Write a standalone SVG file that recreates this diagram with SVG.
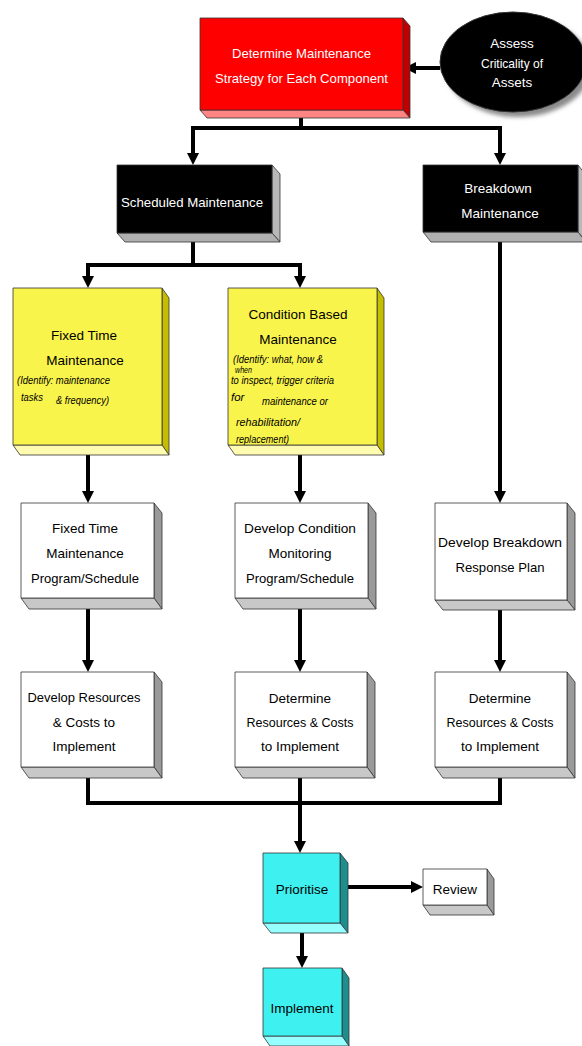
<svg xmlns="http://www.w3.org/2000/svg" width="582" height="1046" viewBox="0 0 582 1046">
  <style>
    text { font-family: "Liberation Sans", Arial, sans-serif; font-size: 13.5px; text-anchor: middle; fill: #000; }
    text.w { fill: #fff; }
    text.it { font-style: italic; font-size: 11.5px; text-anchor: start; }
    .edge { stroke: #333; stroke-width: 0.8; stroke-linejoin: round; }
    .red { fill: #ff0000; } .red-r { fill: #c00000; } .red-b { fill: #ff8484; }
    .blk { fill: #000; } .blk-r { fill: #b8b8b8; } .blk-b { fill: #b0b0b0; }
    .yel { fill: #f9f44c; } .yel-r { fill: #c4bd00; } .yel-b { fill: #fffbb0; }
    .wht { fill: #fff; } .wht-r { fill: #9a9a9a; } .wht-b { fill: #c8c8c8; }
    .cyn { fill: #3ef0f0; } .cyn-r { fill: #1e8f8f; } .cyn-b { fill: #96ffff; }
    .link { fill: none; stroke: #000; stroke-width: 4; }
    .arrow { fill: none; stroke: #000; stroke-width: 4; marker-end: url(#head); }
  </style>
  <defs>
    <marker id="head" markerUnits="userSpaceOnUse" markerWidth="13" markerHeight="12" refX="4" refY="6" orient="auto">
      <path d="M0,0 L12,6 L0,12 z" fill="#000"/>
    </marker>
    <filter id="soft" x="-20%" y="-20%" width="140%" height="140%">
      <feGaussianBlur stdDeviation="2"/>
    </filter>
  </defs>

  <rect width="582" height="1046" fill="#fff"/>

  <!-- connectors -->
  <g id="connectors">
    <path class="arrow" d="M440,68 H412"/>
    <path class="link" d="M301,118 V128 M191,128 H502"/>
    <path class="arrow" d="M193,128 V157"/>
    <path class="arrow" d="M500,128 V157"/>
    <path class="link" d="M193,242 V265 M86,265 H302"/>
    <path class="arrow" d="M88,265 V280"/>
    <path class="arrow" d="M300,265 V280"/>
    <path class="arrow" d="M88,455 V495"/>
    <path class="arrow" d="M300,455 V495"/>
    <path class="arrow" d="M500,242 V495"/>
    <path class="arrow" d="M88,609 V664"/>
    <path class="arrow" d="M300,609 V664"/>
    <path class="arrow" d="M500,610 V664"/>
    <path class="link" d="M88,778 V803 H500 V778"/>
    <path class="arrow" d="M300,778 V845"/>
    <path class="arrow" d="M348,887 H415"/>
    <path class="arrow" d="M302,933 V960"/>
  </g>

  <!-- strategy -->
  <g id="strategy">
    <polygon class="red-r edge" points="403,18 410,26 410,118 403,110"/>
    <polygon class="red-b edge" points="200,110 403,110 410,118 207,118"/>
    <rect class="red edge" x="200" y="18" width="203" height="92"/>
    <text class="w" x="301.5" y="58" textLength="139" lengthAdjust="spacingAndGlyphs">Determine Maintenance</text>
    <text class="w" x="301.5" y="83" textLength="173" lengthAdjust="spacingAndGlyphs">Strategy for Each Component</text>
  </g>

  <!-- criticality -->
  <g id="criticality">
    <ellipse cx="518" cy="67" rx="73" ry="50" fill="#8a8a8a" filter="url(#soft)"/>
    <ellipse cx="513" cy="62" rx="73" ry="50" fill="#000" stroke="#333"/>
    <text class="w" x="512" y="48">Assess</text>
    <text class="w" x="512" y="68" textLength="62" lengthAdjust="spacingAndGlyphs">Criticality of</text>
    <text class="w" x="512" y="87">Assets</text>
  </g>

  <!-- scheduled -->
  <g id="scheduled">
    <polygon class="blk-r edge" points="272,165 280,174 280,242 272,233"/>
    <polygon class="blk-b edge" points="117,233 272,233 280,242 125,242"/>
    <rect class="blk edge" x="117" y="165" width="155" height="68"/>
    <text class="w" x="192" y="207" textLength="142" lengthAdjust="spacingAndGlyphs">Scheduled Maintenance</text>
  </g>

  <!-- breakdown -->
  <g id="breakdown">
    <polygon class="blk-r edge" points="578,165 586,175 586,242 578,232"/>
    <polygon class="blk-b edge" points="423,232 578,232 586,242 431,242"/>
    <rect class="blk edge" x="423" y="165" width="155" height="67"/>
    <text class="w" x="498" y="193">Breakdown</text>
    <text class="w" x="500" y="218">Maintenance</text>
  </g>

  <!-- fixed time -->
  <g id="fixed-time">
    <polygon class="yel-r edge" points="162,288 169,298 169,455 162,445"/>
    <polygon class="yel-b edge" points="13,445 162,445 169,455 20,455"/>
    <rect class="yel edge" x="13" y="288" width="149" height="157"/>
    <text x="84" y="340">Fixed Time</text>
    <text x="85" y="365">Maintenance</text>
    <text class="it" x="17" y="384" textLength="93" lengthAdjust="spacingAndGlyphs">(Identify: maintenance</text>
    <text class="it" x="21" y="401" textLength="22" lengthAdjust="spacingAndGlyphs">tasks</text>
    <text class="it" x="56" y="404" textLength="53" lengthAdjust="spacingAndGlyphs">&amp; frequency)</text>
  </g>

  <!-- condition based -->
  <g id="condition-based">
    <polygon class="yel-r edge" points="377,288 384,298 384,455 377,445"/>
    <polygon class="yel-b edge" points="228,445 377,445 384,455 235,455"/>
    <rect class="yel edge" x="228" y="288" width="149" height="157"/>
    <text x="298" y="319">Condition Based</text>
    <text x="298" y="344">Maintenance</text>
    <text class="it" x="233" y="363" textLength="90" lengthAdjust="spacingAndGlyphs">(Identify: what, how &amp;</text>
    <text class="it" x="235" y="373" style="font-size:9px" textLength="17" lengthAdjust="spacingAndGlyphs">when</text>
    <text class="it" x="231" y="384" textLength="103" lengthAdjust="spacingAndGlyphs">to inspect, trigger criteria</text>
    <text class="it" x="231" y="401">for</text>
    <text class="it" x="262" y="405" textLength="66" lengthAdjust="spacingAndGlyphs">maintenance or</text>
    <text class="it" x="236" y="426" textLength="64" lengthAdjust="spacingAndGlyphs">rehabilitation/</text>
    <text class="it" x="236" y="443" textLength="53" lengthAdjust="spacingAndGlyphs">replacement)</text>
  </g>

  <!-- fixed time programme -->
  <g id="fixed-program">
    <polygon class="wht-r edge" points="154,503 162,513 162,609 154,598"/>
    <polygon class="wht-b edge" points="21,598 154,598 162,609 29,609"/>
    <rect class="wht edge" x="21" y="503" width="133" height="95"/>
    <text x="85" y="533">Fixed Time</text>
    <text x="85" y="558">Maintenance</text>
    <text x="85" y="583" textLength="108" lengthAdjust="spacingAndGlyphs">Program/Schedule</text>
  </g>

  <!-- condition monitoring programme -->
  <g id="condition-program">
    <polygon class="wht-r edge" points="368,503 376,513 376,609 368,598"/>
    <polygon class="wht-b edge" points="235,598 368,598 376,609 243,609"/>
    <rect class="wht edge" x="235" y="503" width="133" height="95"/>
    <text x="300" y="533" textLength="112" lengthAdjust="spacingAndGlyphs">Develop Condition</text>
    <text x="300" y="558">Monitoring</text>
    <text x="300" y="583" textLength="108" lengthAdjust="spacingAndGlyphs">Program/Schedule</text>
  </g>

  <!-- breakdown response plan -->
  <g id="response-plan">
    <polygon class="wht-r edge" points="567,503 575,513 575,610 567,600"/>
    <polygon class="wht-b edge" points="435,600 567,600 575,610 443,610"/>
    <rect class="wht edge" x="435" y="503" width="132" height="97"/>
    <text x="500" y="547" textLength="124" lengthAdjust="spacingAndGlyphs">Develop Breakdown</text>
    <text x="500" y="572" textLength="89" lengthAdjust="spacingAndGlyphs">Response Plan</text>
  </g>

  <!-- resources: fixed time -->
  <g id="fixed-resources">
    <polygon class="wht-r edge" points="154,672 162,682 162,778 154,767"/>
    <polygon class="wht-b edge" points="21,767 154,767 162,778 29,778"/>
    <rect class="wht edge" x="21" y="672" width="133" height="95"/>
    <text x="84" y="702" textLength="113" lengthAdjust="spacingAndGlyphs">Develop Resources</text>
    <text x="84" y="727">&amp; Costs to</text>
    <text x="84" y="751">Implement</text>
  </g>

  <!-- resources: condition based -->
  <g id="condition-resources">
    <polygon class="wht-r edge" points="367,672 375,682 375,778 367,767"/>
    <polygon class="wht-b edge" points="235,767 367,767 375,778 243,778"/>
    <rect class="wht edge" x="235" y="672" width="132" height="95"/>
    <text x="300" y="703">Determine</text>
    <text x="300" y="727" textLength="107" lengthAdjust="spacingAndGlyphs">Resources &amp; Costs</text>
    <text x="300" y="751">to Implement</text>
  </g>

  <!-- resources: breakdown -->
  <g id="breakdown-resources">
    <polygon class="wht-r edge" points="567,672 575,682 575,778 567,767"/>
    <polygon class="wht-b edge" points="435,767 567,767 575,778 443,778"/>
    <rect class="wht edge" x="435" y="672" width="132" height="95"/>
    <text x="500" y="703">Determine</text>
    <text x="500" y="727" textLength="107" lengthAdjust="spacingAndGlyphs">Resources &amp; Costs</text>
    <text x="500" y="751">to Implement</text>
  </g>

  <!-- prioritise -->
  <g id="prioritise">
    <polygon class="cyn-r edge" points="340,853 348,863 348,933 340,923"/>
    <polygon class="cyn-b edge" points="263,923 340,923 348,933 271,933"/>
    <rect class="cyn edge" x="263" y="853" width="77" height="70"/>
    <text x="302" y="894">Prioritise</text>
  </g>

  <!-- review -->
  <g id="review">
    <polygon class="wht-r edge" points="487,869 494,879 494,915 487,905"/>
    <polygon class="wht-b edge" points="423,905 487,905 494,915 430,915"/>
    <rect class="wht edge" x="423" y="869" width="64" height="36"/>
    <text x="455" y="894">Review</text>
  </g>

  <!-- implement -->
  <g id="implement">
    <polygon class="cyn-r edge" points="342,968 349,978 349,1046 342,1036"/>
    <polygon class="cyn-b edge" points="263,1036 342,1036 349,1046 270,1046"/>
    <rect class="cyn edge" x="263" y="968" width="79" height="68"/>
    <text x="302" y="1013">Implement</text>
  </g>
</svg>
